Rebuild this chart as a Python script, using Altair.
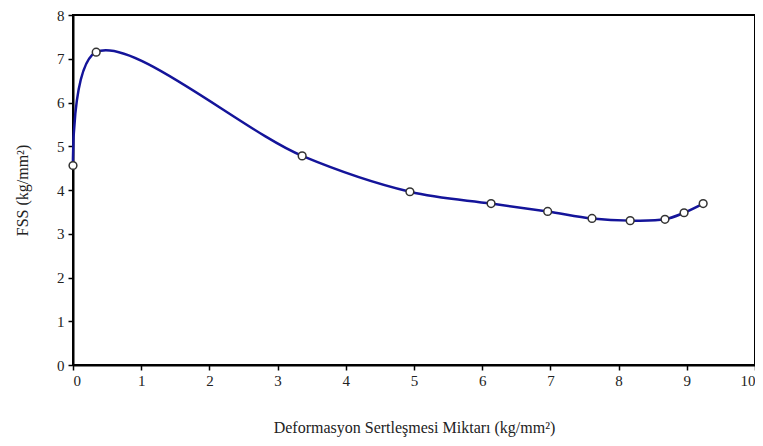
import altair as alt
import pandas as pd

x_vals = [0.0, 0.34, 3.36, 4.94, 6.13, 6.96, 7.61, 8.17, 8.68, 8.96, 9.24]
y_vals = [4.56, 7.15, 4.78, 3.96, 3.69, 3.51, 3.35, 3.30, 3.33, 3.48, 3.69]

df = pd.DataFrame({"x": x_vals, "y": y_vals})

xscale = alt.Scale(domain=[0, 10], nice=False)
yscale = alt.Scale(domain=[0, 8], nice=False)

font = "Liberation Serif, Times New Roman, serif"

xaxis = alt.Axis(
    title="Deformasyon Sertleşmesi Miktarı (kg/mm²)",
    values=list(range(0, 11)), format="d", grid=False,
    domainColor="black", domainWidth=2, tickColor="black", tickWidth=1.5, tickSize=5,
    labelFont=font, labelFontSize=15, labelColor="#222", labelPadding=3,
    titleFont=font, titleFontSize=16, titleFontWeight="normal", titleColor="#222",
    titlePadding=31,
)
yaxis = alt.Axis(
    title="FSS (kg/mm²)",
    values=list(range(0, 9)), format="d", grid=False,
    domainColor="black", domainWidth=2, tickColor="black", tickWidth=1.5, tickSize=5,
    labelFont=font, labelFontSize=15, labelColor="#222", labelPadding=4,
    titleFont=font, titleFontSize=16, titleFontWeight="normal", titleColor="#222",
    titlePadding=26,
)

base = alt.Chart(df)

line = base.mark_line(interpolate="catmull-rom", color="#14149a", strokeWidth=2.5).encode(
    x=alt.X("x:Q", scale=xscale, axis=xaxis),
    y=alt.Y("y:Q", scale=yscale, axis=yaxis),
)

pts = base.mark_point(filled=True, fill="white", stroke="#333", strokeWidth=1.5, size=60, opacity=1).encode(
    x=alt.X("x:Q", scale=xscale),
    y=alt.Y("y:Q", scale=yscale),
)

chart = (line + pts).properties(
    width=682, height=350,
    background="white",
    autosize=alt.AutoSizeParams(type="none"),
    padding={"left": 65, "top": 7, "right": 0, "bottom": 73},
).configure_view(stroke="black", strokeWidth=2)

chart.save("out.html", embed_options={"renderer": "svg", "actions": False})
